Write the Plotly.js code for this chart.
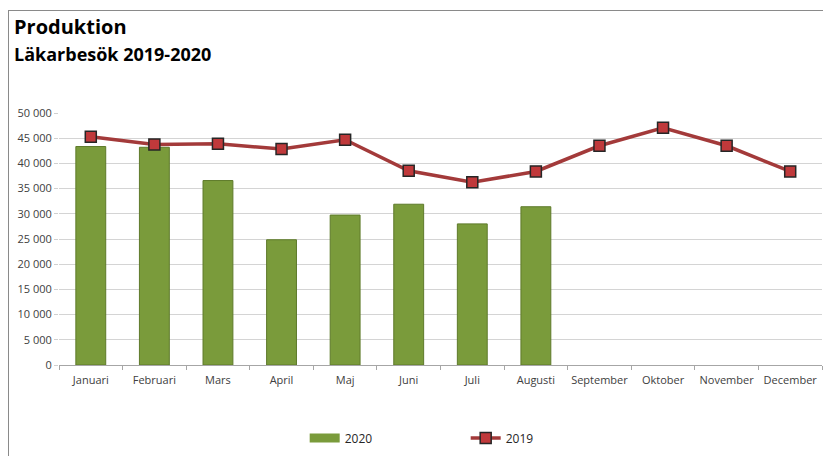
<!DOCTYPE html>
<html>
<head>
<meta charset="utf-8">
<script src="https://cdn.plot.ly/plotly-3.0.1.min.js"></script>
<style>
  html, body { margin: 0; padding: 0; background: #fff; }
  #wrap { position: relative; width: 823px; height: 456px; overflow: hidden; }
  #chart { width: 823px; height: 456px; }
  #frame { position: absolute; left: 8px; top: 10px; width: 830px; height: 460px;
           border-top: 1.5px solid #8a8a8a; border-left: 1.5px solid #8a8a8a; pointer-events: none; }
</style>
</head>
<body>
<div id="wrap">
  <div id="chart"></div>
  <div id="frame"></div>
</div>
<script>
const months = ["Januari","Februari","Mars","April","Maj","Juni","Juli","Augusti","September","Oktober","November","December"];
const values2020 = [43350, 43200, 36600, 24850, 29750, 31900, 28000, 31400, null, null, null, null];
const values2019 = [45300, 43750, 43900, 42850, 44700, 38550, 36250, 38400, 43500, 47050, 43500, 38400];
const yTicks = [0, 5000, 10000, 15000, 20000, 25000, 30000, 35000, 40000, 45000, 50000];

const traces = [
  {
    type: "bar", name: "2020", x: months, y: values2020, width: 0.47, showlegend: false,
    marker: { color: "#7a9b3b", line: { color: "#5e7a2a", width: 1 } }
  },
  {
    // legend entry for the bars, drawn as a wide rectangular swatch
    type: "scatter", mode: "lines", name: "2020", x: [months[0]], y: [null],
    line: { color: "#7a9b3b", width: 9 }
  },
  {
    type: "scatter", mode: "lines+markers", name: "2019", x: months, y: values2019,
    line: { color: "#a33a3a", width: 3.5 },
    marker: { symbol: "square", size: 11, color: "#c0393b", line: { color: "#262626", width: 1.5 } }
  }
];

const layout = {
  width: 823, height: 456,
  margin: { l: 59, r: 1, t: 113, b: 91 },
  paper_bgcolor: "#ffffff", plot_bgcolor: "#ffffff",
  separators: ", ",
  font: { family: "'Open Sans', sans-serif", size: 11, color: "#404040" },
  showlegend: true,
  legend: {
    orientation: "h", x: 0.322, y: -0.29, xanchor: "left", yanchor: "middle",
    font: { size: 12, color: "#262626" }, entrywidth: 116, entrywidthmode: "pixels",
    itemwidth: 30, bgcolor: "rgba(0,0,0,0)"
  },
  xaxis: {
    type: "category", range: [-0.5, 11.5], tickson: "boundaries", ticks: "outside", ticklen: 4,
    tickcolor: "#a6a6a6", showline: true, linecolor: "#a6a6a6", linewidth: 1, tickangle: 0,
    showgrid: false, tickfont: { size: 11, color: "#404040" }, ticklabelstandoff: 5, fixedrange: true
  },
  yaxis: {
    range: [0, 50000], tickvals: yTicks, tickformat: ",d", ticks: "outside", ticklen: 4,
    tickcolor: "#d0d0d0", showline: false, gridcolor: "#d4d4d4", gridwidth: 1,
    zeroline: false, tickfont: { size: 11, color: "#404040" }, fixedrange: true
  },
  annotations: [
    { text: "<b>Produktion</b>", xref: "paper", yref: "paper", x: -0.061, y: 1.345,
      xanchor: "left", yanchor: "middle", showarrow: false,
      font: { size: 20, color: "#000", family: "'Open Sans', sans-serif" } },
    { text: "<b>Läkarbesök 2019-2020</b>", xref: "paper", yref: "paper", x: -0.061, y: 1.236,
      xanchor: "left", yanchor: "middle", showarrow: false,
      font: { size: 18, color: "#000", family: "'Open Sans', sans-serif" } }
  ]
};

Plotly.newPlot("chart", traces, layout, { displayModeBar: false, staticPlot: true });
</script>
</body>
</html>
